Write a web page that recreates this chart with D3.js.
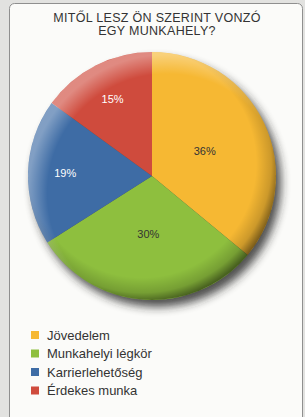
<!DOCTYPE html>
<html>
<head>
<meta charset="utf-8">
<script src="https://cdn.jsdelivr.net/npm/d3@7"></script>
<style>
  body { margin: 0; background: #e2e2e0; }
  svg { display: block; }
</style>
</head>
<body>
<div id="chart"></div>
<script>
// chart data
var categories = ["Jövedelem", "Munkahelyi légkör", "Karrierlehetőség", "Érdekes munka"];
var values = [36, 30, 19, 15];
var colors = ["#f6b833", "#8ebf3e", "#3e6ca5", "#cf4b3d"];
var labelColors = ["#333", "#333", "#fff", "#fff"];
var titleLines = ["MITŐL LESZ ÖN SZERINT VONZÓ", "EGY MUNKAHELY?"];

var width = 305, height = 417;
var cx = 152, cy = 176, r = 124;

var svg = d3.select("#chart")
  .append("svg")
    .attr("width", width)
    .attr("height", height);

var defs = svg.append("defs");

// soft drop shadow under the pie
var blur = defs.append("filter").attr("id", "shadow")
  .attr("x", "-20%").attr("y", "-20%").attr("width", "140%").attr("height", "140%");
blur.append("feGaussianBlur").attr("stdDeviation", 5);

// rim shading, darker at the bottom right
var rim = defs.append("radialGradient").attr("id", "rim")
  .attr("cx", "46%").attr("cy", "45%").attr("r", "56%");
rim.append("stop").attr("offset", "0.82").attr("stop-color", "#000").attr("stop-opacity", 0);
rim.append("stop").attr("offset", "0.93").attr("stop-color", "#000").attr("stop-opacity", 0.17);
rim.append("stop").attr("offset", "1").attr("stop-color", "#000").attr("stop-opacity", 0.5);

// light rim at the top left
var hl = defs.append("radialGradient").attr("id", "hl")
  .attr("cx", "56%").attr("cy", "57%").attr("r", "56%");
hl.append("stop").attr("offset", "0.86").attr("stop-color", "#fff").attr("stop-opacity", 0);
hl.append("stop").attr("offset", "1").attr("stop-color", "#fff").attr("stop-opacity", 0.35);

// card
svg.append("rect")
  .attr("x", 9.5).attr("y", 3.5)
  .attr("width", 293).attr("height", 420)
  .attr("rx", 5)
  .style("fill", "#fbfbf9")
  .style("stroke", "#8f8f8f")
  .style("stroke-width", 1);

// title
svg.append("g").selectAll("text")
  .data(titleLines)
  .enter()
  .append("text")
    .attr("x", 157)
    .attr("y", function(d, i) { return 22 + i * 12.8; })
    .attr("text-anchor", "middle")
    .style("font-family", "Liberation Sans, Arial, sans-serif")
    .style("font-size", "12.5px")
    .style("letter-spacing", "0.3px")
    .style("fill", "#333")
    .text(function(d) { return d; });

var pie = d3.pie().sort(null).value(function(d) { return d; });
var arcs = pie(values);
var arc = d3.arc().innerRadius(0).outerRadius(r);

var g = svg.append("g")
  .attr("transform", "translate(" + cx + "," + cy + ")");

g.append("circle")
  .attr("cx", 5).attr("cy", 7).attr("r", r)
  .style("fill", "#222")
  .style("opacity", 0.8)
  .attr("filter", "url(#shadow)");

g.selectAll("path.slice")
  .data(arcs)
  .enter()
  .append("path")
    .attr("class", "slice")
    .attr("d", arc)
    .style("fill", function(d, i) { return colors[i]; });

g.append("circle").attr("r", r).style("fill", "url(#rim)");
g.append("circle").attr("r", r).style("fill", "url(#hl)");

// percent labels, small slices sit further out
g.selectAll("text.pct")
  .data(arcs)
  .enter()
  .append("text")
    .attr("class", "pct")
    .attr("transform", function(d) {
      var k = (d.data < 25) ? 0.7 : 0.47;
      var lr = d3.arc().innerRadius(r * k).outerRadius(r * k);
      return "translate(" + lr.centroid(d) + ")";
    })
    .attr("text-anchor", "middle")
    .attr("dy", "0.35em")
    .style("font-family", "Liberation Sans, Arial, sans-serif")
    .style("font-size", "11px")
    .style("fill", function(d, i) { return labelColors[i]; })
    .text(function(d) { return d.data + "%"; });

// legend
var legend = svg.append("g").selectAll("g")
  .data(categories)
  .enter()
  .append("g")
    .attr("transform", function(d, i) { return "translate(31," + (331 + i * 18.5) + ")"; });

legend.append("rect")
  .attr("width", 8).attr("height", 8)
  .style("fill", function(d, i) { return colors[i]; });

legend.append("text")
  .attr("x", 16).attr("y", 4)
  .attr("dy", "0.36em")
  .style("font-family", "Liberation Sans, Arial, sans-serif")
  .style("font-size", "13px")
  .style("fill", "#333")
  .text(function(d) { return d; });
</script>
</body>
</html>
